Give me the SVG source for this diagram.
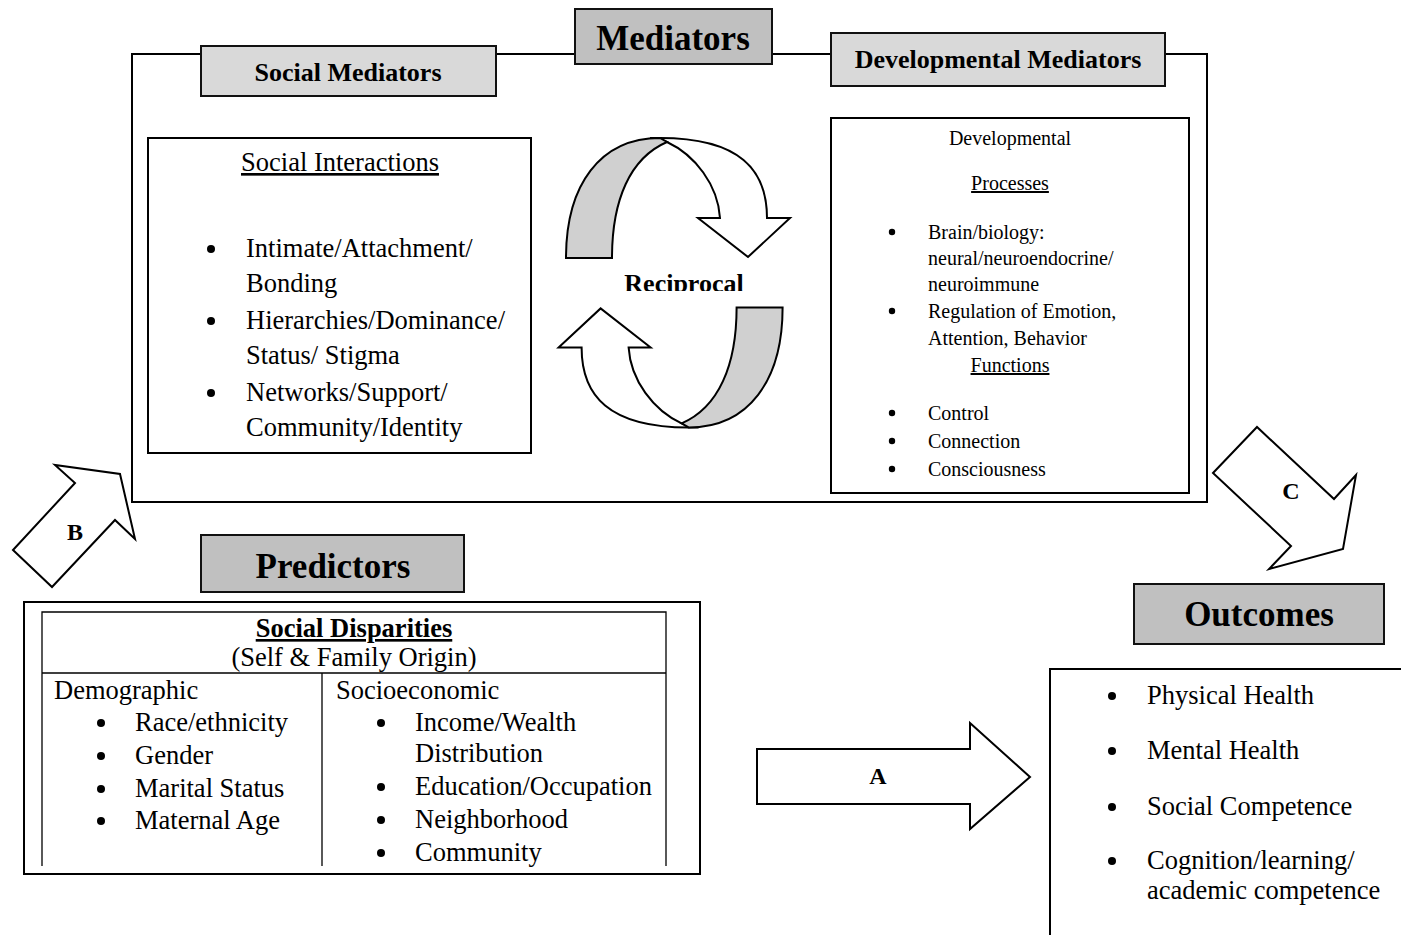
<svg xmlns="http://www.w3.org/2000/svg" width="1401" height="935" viewBox="0 0 1401 935">
  <style>
    text { font-family: "Liberation Serif", "Times New Roman", serif; fill: #000; }
    .big { font-size: 35px; font-weight: bold; text-anchor: middle; }
    .mid { font-size: 26px; font-weight: bold; text-anchor: middle; }
    .body { font-size: 26.5px; }
    .small { font-size: 20px; }
    .ctr { text-anchor: middle; }
    .ul { text-decoration: underline; }
    .lbl { font-size: 24px; font-weight: bold; text-anchor: middle; }
    .dot { fill: #000; }
    .frame { fill: none; stroke: #000; stroke-width: 2; }
    .box { fill: #fff; stroke: #000; stroke-width: 2; }
    .hdr-dark { fill: #c0c0c0; stroke: #111; stroke-width: 2; }
    .hdr-light { fill: #d9d9d9; stroke: #111; stroke-width: 2; }
    .shape { fill: #fff; stroke: #000; stroke-width: 2; stroke-linejoin: miter; }
    .band { fill: #d0d0d0; stroke: #000; stroke-width: 2; }
    .thin { fill: none; stroke: #000; stroke-width: 1.3; }
  </style>
  <defs>
    <clipPath id="recipClip">
      <rect x="590" y="255" width="180" height="36"/>
    </clipPath>
    <!-- list markers -->
    <circle id="bullet" class="dot" r="4"/>
    <circle id="bullet-s" class="dot" r="3.2"/>
    <!-- one half of the reciprocal loop; the other half is this one turned 180 degrees -->
    <g id="loopHalf">
      <path class="shape" d="M650,138 L660,138 C740,138 767,170 767,218 L790,218 L748,257 L698,218 L720,218 C718,185 695,155 667,142 Z"/>
      <path class="band" d="M566,258 C566,185 600,138 660,138 L667,142 C630,158 612,200 612,258 Z"/>
    </g>
  </defs>

  <!-- Mediators section -->
  <g id="mediators-frame">
    <rect class="frame" x="132" y="54" width="1075" height="448"/>
  </g>
  <g id="social-mediators">
    <rect class="hdr-light" x="201" y="46" width="295" height="50"/>
    <text class="mid" x="348" y="81">Social Mediators</text>
  </g>
  <g id="mediators">
    <rect class="hdr-dark" x="575" y="9" width="197" height="55"/>
    <text class="big" x="673" y="50">Mediators</text>
  </g>
  <g id="developmental-mediators">
    <rect class="hdr-light" x="831" y="33" width="334" height="53"/>
    <text class="mid" x="998" y="68">Developmental Mediators</text>
  </g>

  <g id="social-interactions">
    <rect class="box" x="148" y="138" width="383" height="315"/>
    <text class="body ctr ul" x="340" y="171">Social Interactions</text>
    <use href="#bullet" x="211" y="249"/>
    <text class="body" x="246" y="257">Intimate/Attachment/</text>
    <text class="body" x="246" y="292">Bonding</text>
    <use href="#bullet" x="211" y="321"/>
    <text class="body" x="246" y="329">Hierarchies/Dominance/</text>
    <text class="body" x="246" y="364">Status/ Stigma</text>
    <use href="#bullet" x="211" y="393"/>
    <text class="body" x="246" y="401">Networks/Support/</text>
    <text class="body" x="246" y="436">Community/Identity</text>
  </g>

  <g id="reciprocal">
    <use href="#loopHalf"/>
    <use href="#loopHalf" transform="rotate(180 674.3 282.7)"/>
    <text class="mid" x="684" y="292" clip-path="url(#recipClip)">Reciprocal</text>
  </g>

  <g id="developmental-processes">
    <rect class="box" x="831" y="118" width="358" height="375"/>
    <text class="small ctr" x="1010" y="145">Developmental</text>
    <text class="small ctr ul" x="1010" y="190">Processes</text>
    <use href="#bullet-s" x="892" y="232"/>
    <text class="small" x="928" y="239">Brain/biology:</text>
    <text class="small" x="928" y="265">neural/neuroendocrine/</text>
    <text class="small" x="928" y="291">neuroimmune</text>
    <use href="#bullet-s" x="892" y="311"/>
    <text class="small" x="928" y="318">Regulation of Emotion,</text>
    <text class="small" x="928" y="345">Attention, Behavior</text>
    <text class="small ctr ul" x="1010" y="372">Functions</text>
    <use href="#bullet-s" x="892" y="413"/>
    <text class="small" x="928" y="420">Control</text>
    <use href="#bullet-s" x="892" y="441"/>
    <text class="small" x="928" y="448">Connection</text>
    <use href="#bullet-s" x="892" y="469"/>
    <text class="small" x="928" y="476">Consciousness</text>
  </g>

  <!-- Predictors section -->
  <g id="predictors">
    <rect class="hdr-dark" x="201" y="535" width="263" height="57"/>
    <text class="big" x="333" y="578">Predictors</text>
  </g>
  <g id="social-disparities">
    <rect class="frame" x="24" y="602" width="676" height="272"/>
    <path class="thin" d="M42,866 V612 H666 V866 M42,673 H666 M322,673 V866"/>
    <text class="body ctr ul" x="354" y="637" font-weight="bold">Social Disparities</text>
    <text class="body ctr" x="354" y="666">(Self &amp; Family Origin)</text>
    <text class="body" x="54" y="699">Demographic</text>
    <use href="#bullet" x="101" y="723"/>
    <text class="body" x="135" y="731">Race/ethnicity</text>
    <use href="#bullet" x="101" y="756"/>
    <text class="body" x="135" y="764">Gender</text>
    <use href="#bullet" x="101" y="789"/>
    <text class="body" x="135" y="797">Marital Status</text>
    <use href="#bullet" x="101" y="821"/>
    <text class="body" x="135" y="829">Maternal Age</text>
    <text class="body" x="336" y="699">Socioeconomic</text>
    <use href="#bullet" x="381" y="723"/>
    <text class="body" x="415" y="731">Income/Wealth</text>
    <text class="body" x="415" y="762">Distribution</text>
    <use href="#bullet" x="381" y="787"/>
    <text class="body" x="415" y="795">Education/Occupation</text>
    <use href="#bullet" x="381" y="820"/>
    <text class="body" x="415" y="828">Neighborhood</text>
    <use href="#bullet" x="381" y="853"/>
    <text class="body" x="415" y="861">Community</text>
  </g>

  <!-- Outcomes section -->
  <g id="outcomes">
    <rect class="hdr-dark" x="1134" y="584" width="250" height="60"/>
    <text class="big" x="1259" y="626">Outcomes</text>
  </g>
  <g id="outcome-list">
    <path class="frame" d="M1050,935 V669 H1402"/>
    <use href="#bullet" x="1112" y="696"/>
    <text class="body" x="1147" y="704">Physical Health</text>
    <use href="#bullet" x="1112" y="751"/>
    <text class="body" x="1147" y="759">Mental Health</text>
    <use href="#bullet" x="1112" y="807"/>
    <text class="body" x="1147" y="815">Social Competence</text>
    <use href="#bullet" x="1112" y="861"/>
    <text class="body" x="1147" y="869">Cognition/learning/</text>
    <text class="body" x="1147" y="899">academic competence</text>
  </g>

  <!-- Pathway arrows -->
  <g id="connectors">
    <g id="path-a">
      <polygon class="shape" points="757,749 970,749 970,723 1030,777 970,829 970,804 757,804"/>
      <text class="lbl" x="878" y="784">A</text>
    </g>
    <g id="path-b">
      <polygon class="shape" points="13,550 52,587 115,520 135,539 120,474 55,465 75,483"/>
      <text class="lbl" x="75" y="540">B</text>
    </g>
    <g id="path-c">
      <polygon class="shape" points="1213,473 1257,427 1334,499 1356,475 1343,549 1269,569 1291,546"/>
      <text class="lbl" x="1291" y="499">C</text>
    </g>
  </g>
</svg>
